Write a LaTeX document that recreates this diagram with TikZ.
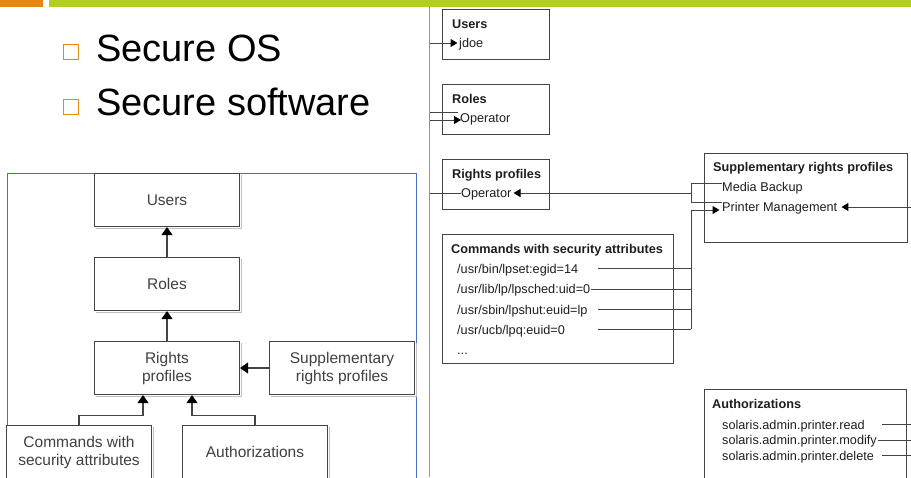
\documentclass[tikz,border=0pt]{standalone}
\usepackage{fontspec}
\setmainfont{Liberation Sans}
\usetikzlibrary{arrows.meta}

\definecolor{barorange}{HTML}{E8870E}
\definecolor{bargreen}{HTML}{B3CE1B}
\definecolor{frameblue}{HTML}{4270C2}
\definecolor{linegray}{HTML}{444444}
\definecolor{txt}{HTML}{1E1E1E}

\tikzset{
  bulletbox/.style={draw=barorange, line width=1.3pt, minimum size=14.5pt, inner sep=0pt},
  bigtext/.style={anchor=base west, inner sep=0pt, font=\fontsize{38}{44}\selectfont, text=black},
  lbox/.style={draw=linegray, line width=1.1pt, fill=white, minimum width=145pt, minimum height=53pt,
    inner sep=0pt, align=center, font=\fontsize{15.5}{18}\selectfont, text=txt!85},
  lshadow/.style={draw=black!25, line width=1.2pt},
  ltip/.style={draw=linegray, line width=1.1pt, -{Triangle[length=8pt,width=11pt,color=black,fill=black]}},
  lline/.style={draw=linegray, line width=1.1pt},
  rbox/.style={draw=linegray, line width=1pt, anchor=north west, inner sep=0pt},
  rtitle/.style={anchor=base west, inner sep=0pt, font=\fontsize{12.7}{15}\selectfont\bfseries, text=txt},
  ritem/.style={anchor=base west, inner sep=0pt, font=\fontsize{12.7}{15}\selectfont, text=txt,
    text height=10pt, text depth=1pt},
  rline/.style={draw=linegray, line width=1pt},
  rtip/.style={draw=linegray, line width=1pt, -{Triangle[length=7pt,width=8pt,color=black,fill=black]}},
}

\begin{document}
\begin{tikzpicture}[x=1pt,y=-1pt]
\useasboundingbox (0,0) rectangle (911,477);
\clip (0,0) rectangle (911,477);

% slide header bars
\fill[barorange] (0,0) rectangle (43,7);
\fill[bargreen] (49,0) rectangle (911,7);

% bullet list
\node[bulletbox] (bul1) at (71,52) {};
\node[bulletbox] (bul2) at (71,107) {};
\node[bigtext] (sec1) at (96,61) {Secure OS};
\node[bigtext] (sec2) at (96,115) {Secure software};

% ---------- overview diagram ----------
\draw[frameblue, line width=1pt] (7.5,173.5) rectangle (416.5,490);

\node[lbox] (lusers)  at (167,200) {Users};
\node[lbox] (lroles)  at (167,284) {Roles};
\node[lbox] (lrights) at (167,368) {Rights\\profiles};
\node[lbox] (lsupp) at (342,368) {Supplementary\\rights profiles};
\node[lbox] (lcmd) at (79,452) {Commands with\\security attributes};
\node[lbox] (lauth) at (255,452) {Authorizations};

% soft shadow along the right and bottom edges of each box
\foreach \b in {lusers,lroles,lrights,lsupp,lcmd,lauth}{
  \draw[lshadow] ([shift={(1.5,2)}]\b.north east) -- ([shift={(1.5,1.5)}]\b.south east)
                 -- ([shift={(2,1.5)}]\b.south west);
}

\draw[ltip] (lroles.north) -- (lusers.south);
\draw[ltip] (lrights.north) -- (lroles.south);
\draw[ltip] (lsupp.west) -- (lrights.east);
\coordinate (lj1) at (143,415.5);
\coordinate (lj2) at (192,415.5);
\draw[lline] (lcmd.north) |- (lj1);
\draw[ltip] (lj1) -- (lj1 |- lrights.south);
\draw[lline] (lauth.north) |- (lj2);
\draw[ltip] (lj2) -- (lj2 |- lrights.south);

% ---------- detailed example ----------
% boxes
\node[rbox, minimum width=107pt, minimum height=50pt] (rusers)  at (442,9) {};
\node[rbox, minimum width=107pt, minimum height=50pt] (rroles)  at (442,84) {};
\node[rbox, minimum width=107pt, minimum height=50pt] (rrights) at (442,159) {};
\node[rbox, minimum width=231pt, minimum height=129pt] (rcmd) at (442,234) {};
\node[rbox, minimum width=203pt, minimum height=89pt] (rsupp) at (704,153) {};
\node[rbox, minimum width=202pt, minimum height=100pt] (rauth) at (704,389) {};

% box contents
\node[rtitle] (tusers) at (452,28) {Users};
\node[ritem] (jdoe) at (459,47) {jdoe};

\node[rtitle] (troles) at (452,103) {Roles};
\node[ritem] (rop) at (460,122) {Operator};

\node[rtitle] (trights) at (452,178) {Rights profiles};
\node[ritem] (rpop) at (461,197.5) {Operator};

\node[rtitle] (tcmd) at (451,253) {Commands with security attributes};
\node[ritem] (cm1) at (457,273) {/usr/bin/lpset:egid=14};
\node[ritem] (cm2) at (457,293.5) {/usr/lib/lp/lpsched:uid=0};
\node[ritem] (cm3) at (457,314) {/usr/sbin/lpshut:euid=lp};
\node[ritem] (cm4) at (457,334) {/usr/ucb/lpq:euid=0};
\node[ritem] (cm5) at (457,354) {...};

\node[rtitle] (tsupp) at (713,171.5) {Supplementary rights profiles};
\node[ritem] (mb) at (722,191.5) {Media Backup};
\node[ritem] (pm) at (722,211) {Printer Management};

\node[rtitle] (tauth) at (712,408.5) {Authorizations};
\node[ritem] (au1) at (722,429) {solaris.admin.printer.read};
\node[ritem] (au2) at (722,444.5) {solaris.admin.printer.modify};
\node[ritem] (au3) at (722,460) {solaris.admin.printer.delete};

% links coming in from the left edge
\coordinate (eu) at (430,43);
\draw[rtip, shorten >=1.5pt] (eu) -- (eu -| jdoe.west);
\coordinate (er1) at (430,112);
\coordinate (er2) at (430,120);
\draw[rline] (er1) -- ([xshift=-2pt]er1 -| rop.west);
\draw[rtip, shorten >=-1pt] (er2) -- (er2 -| rop.west);
\coordinate (ep) at (430,193);
\draw[rline] (ep) -- (ep -| rpop.west);

% supplementary profiles feeding the Operator profile
\coordinate (bm) at (691,193);
\coordinate (bt) at (691,183.5);
\coordinate (bb) at (691,202);
\draw[rline] (bt) -- (bb);
\draw[rline] (bt) -- (bt -| mb.west);
\draw[rline] (bb) -- (bb -| pm.west);
\draw[rtip, shorten >=2pt] (bm) -- (bm -| rpop.east);

% commands feeding Printer Management
\coordinate (cv) at (691,210);
\coordinate (c1) at (598,268);
\coordinate (c2) at (598,289);
\coordinate (c3) at (598,309);
\coordinate (c4) at (598,329);
\draw[rline] (c1) -- (c1 -| cv);
\draw[rline] ([xshift=1pt]cm2.east |- c2) -- (c2 -| cv);
\draw[rline] (c3) -- (c3 -| cv);
\draw[rline] (c4) -- (c4 -| cv);
\draw[rline] (c4 -| cv) -- (cv);
\draw[rtip, shorten >=2.5pt] (cv) -- (cv -| pm.west);

% link into Printer Management from the right edge
\coordinate (pr) at (911,207);
\draw[rtip, shorten >=4pt] (pr) -- (pr -| pm.east);

% authorizations leaving to the right edge
\coordinate (ao1) at (911,424);
\coordinate (ao2) at (911,440);
\coordinate (ao3) at (911,455);
\coordinate (ai1) at (882,424);
\coordinate (ai3) at (882,455);
\draw[rline] (ai1) -- (ao1);
\draw[rline] ([xshift=1.5pt]au2.east |- ao2) -- (ao2);
\draw[rline] (ai3) -- (ao3);

% slide divider, drawn last so it sits on top of the incoming links
\draw[barorange, line width=1.2pt] (429.5,7) -- (429.5,477);
\end{tikzpicture}
\end{document}
